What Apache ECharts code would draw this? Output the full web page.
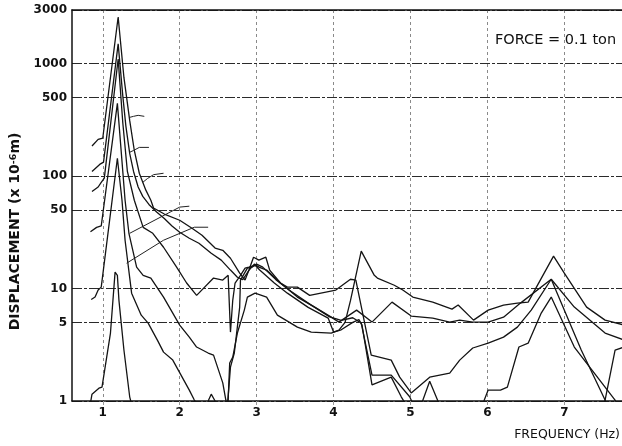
<!DOCTYPE html>
<html><head><meta charset="utf-8">
<script src="https://cdn.jsdelivr.net/npm/echarts@6/dist/echarts.min.js"></script>
<style>html,body{margin:0;padding:0;background:#fff}#c{width:622px;height:446px}</style>
</head><body><div id="c"></div>
<script>
// frequency (Hz) tick labels and displacement tick labels
const xTicks = [1, 2, 3, 4, 5, 6, 7];
const yTicks = [1, 5, 10, 50, 100, 500, 1000, 3000];

// response curves: [frequency Hz, displacement x1e-6 m]
const curveA = [[0.86,185],[0.94,212],[1.0,218],[1.2,2600],[1.275,754],[1.35,313],[1.41,169],[1.475,106],[1.56,75],[1.625,61],[1.66,52],[1.8,46],[2.0,40.5],[2.16,34.4],[2.29,29.8],[2.46,22.9],[2.56,21.9],[2.66,18.6],[2.78,13.7],[2.85,11.9],[2.9,14.6],[2.96,19],[3.03,17.9],[3.12,19],[3.17,14.6],[3.31,11.2],[3.4,10.3],[3.53,10.3],[3.69,8.7],[4.03,9.7],[4.22,12.1],[4.29,11.9],[4.49,2.56],[4.75,2.31],[4.86,1.63],[5.01,1.18],[5.25,1.63],[5.51,1.77],[5.64,2.31],[5.81,2.96],[6.01,3.27],[6.21,3.7],[6.39,4.54],[6.57,6.43],[6.83,12.1],[7.22,2.84],[7.53,1.02],[7.6,0.7]];
const curveB = [[0.86,110],[0.96,127],[1.01,133],[1.2,1500],[1.26,520],[1.3,280],[1.35,159],[1.4,110],[1.46,80],[1.52,66],[1.6,56],[1.7,48],[1.8,42],[1.9,36],[2.0,31.7],[2.125,28],[2.25,25.3],[2.41,20.6],[2.54,17.9],[2.66,14.6],[2.75,12.6],[2.82,12],[2.9,14.5],[2.97,16.5],[3.03,15.5],[3.13,14.6],[3.31,11.2],[3.53,8.4],[3.76,6.8],[3.97,5.57],[4.07,5.03],[4.3,6.43],[4.5,5.03],[4.76,7.57],[5.01,5.69],[5.29,5.46],[5.51,5.03],[5.64,5.24],[5.81,5.03],[6.01,5.03],[6.21,5.57],[6.43,7.42],[6.83,12.1],[7.13,6.84],[7.53,4.02],[7.78,3.48]];
const curveC = [[0.86,73],[0.94,80],[0.98,88],[1.02,96],[1.2,1100],[1.26,300],[1.32,110],[1.41,61],[1.525,35],[1.65,31],[1.79,23.3],[1.96,15.5],[2.09,11.2],[2.22,8.7],[2.44,12.4],[2.56,11.9],[2.63,13.1],[2.66,4.1],[2.69,7.9],[2.72,11.2],[2.79,13.1],[2.85,15.2],[2.9,15.5],[2.98,16.1],[3.04,14.6],[3.23,11.2],[3.4,9.1],[3.67,6.8],[3.93,5.46],[4.0,4.1],[4.1,4.3],[4.25,5.0],[4.33,5.3],[4.37,4.73],[4.5,1.39],[4.75,1.63],[4.88,1.09],[5.0,0.8],[5.12,0.85],[5.25,1.5],[5.4,0.85],[5.5,0.6],[7.45,0.6],[7.53,1.02],[7.66,2.84],[7.78,3.02]];
const curveD = [[0.84,32],[0.92,35],[0.98,36],[1.19,443],[1.29,61],[1.34,31],[1.44,15.5],[1.525,13.1],[1.625,12.4],[1.79,8.4],[2.0,4.73],[2.125,3.7],[2.22,3.02],[2.37,2.67],[2.44,2.56],[2.56,1.45],[2.6,1.02],[2.62,0.9],[2.66,2.0],[2.71,2.67],[2.78,6.84],[2.79,11.9],[2.88,15.2],[2.94,15.5],[3.0,16.5],[3.08,15.5],[3.25,12],[3.45,9.4],[3.7,7.2],[3.95,5.6],[4.1,5.2],[4.25,5.5],[4.36,4.93],[4.5,1.7],[4.75,1.7],[4.99,1.09],[5.1,0.75],[5.9,0.75],[5.96,1.02],[6.01,1.25],[6.17,1.25],[6.26,1.33],[6.41,3.02],[6.53,3.27],[6.7,6.05],[6.83,8.4],[7.13,3.02],[7.66,1.02],[7.72,0.8]];
const curveE = [[0.85,8.0],[0.9,8.4],[0.94,9.7],[0.98,10.3],[1.19,144],[1.25,61],[1.29,26.9],[1.375,9.1],[1.5,5.8],[1.59,4.93],[1.71,3.48],[1.79,2.72],[1.91,2.31],[2.125,1.25],[2.19,1.02],[2.3,0.8],[2.37,1.0],[2.41,1.15],[2.46,1.0],[2.52,0.8],[2.6,0.8],[2.63,1.02],[2.65,2.18],[2.69,2.46],[2.75,4.02],[2.84,6.43],[2.88,8.4],[2.98,9.1],[3.13,8.4],[3.27,5.8],[3.53,4.54],[3.71,4.1],[3.97,4.02],[4.07,4.27],[4.15,5.0],[4.22,7.8],[4.36,21.5],[4.53,13.1],[4.57,12.4],[4.79,10.7],[4.9,9.7],[5.03,8.4],[5.29,7.57],[5.54,6.56],[5.62,7.13],[5.82,5.24],[6.01,6.43],[6.21,7.13],[6.39,7.42],[6.53,7.57],[6.86,19.4],[7.0,13.7],[7.29,6.84],[7.53,5.24],[7.78,4.73]];
const curveF = [[0.82,0.8],[0.86,1.15],[0.95,1.3],[0.99,1.33],[1.1,4.02],[1.16,14],[1.19,13.1],[1.21,7.9],[1.275,2.84],[1.35,1.09],[1.4,0.8]];

// label leader lines
const leader1 = [[1.35,333],[1.4,340],[1.46,347],[1.54,340]];
const leader2 = [[1.35,163],[1.4,169],[1.475,180],[1.6,180]];
const leader3 = [[1.52,88],[1.58,95],[1.66,103],[1.79,106]];
const leader4 = [[1.35,31],[2.0,53],[2.125,54]];
const leader5 = [[1.31,16.8],[1.79,26.9],[2.19,35.1],[2.37,35.1]];

const curves = [curveA, curveB, curveC, curveD, curveE, curveF];
const leaders = [leader1, leader2, leader3, leader4, leader5];

const FONT = 'DejaVu Sans';
const series = [];
curves.forEach((d, i) => series.push({
  type: 'line', data: d, showSymbol: false, symbol: 'none', clip: true,
  lineStyle: { color: '#141414', width: 1.3 }, z: 3
}));
leaders.forEach(d => series.push({
  type: 'line', data: d, showSymbol: false, symbol: 'none', clip: true,
  lineStyle: { color: '#222', width: 1 }, z: 3
}));

const chart = echarts.init(document.getElementById('c'), null, { renderer: 'canvas' });
chart.setOption({
  animation: false,
  backgroundColor: '#fff',
  grid: { left: 72, right: 0, top: 10, bottom: 45 },
  xAxis: [{
    type: 'value', min: 0.6, max: 7.75,
    axisLine: { show: true, lineStyle: { color: '#111', width: 1.5 } },
    axisTick: { show: true, customValues: xTicks, length: 4, lineStyle: { color: '#999' } },
    axisLabel: { customValues: xTicks, margin: 6, color: '#111', fontFamily: FONT, fontWeight: 'bold', fontSize: 12 },
    splitLine: { show: true, lineStyle: { color: '#8a8a8a', width: 1, type: [3, 3] } }
  }, {
    type: 'value', min: 0.6, max: 7.75, position: 'top',
    axisLine: { show: true, lineStyle: { color: '#111', width: 1.5 } },
    axisTick: { show: false }, axisLabel: { show: false }, splitLine: { show: false }
  }],
  yAxis: {
    type: 'log', logBase: 10, min: 1, max: 3000,
    axisLine: { show: true, lineStyle: { color: '#111', width: 1.5 } },
    axisTick: { show: false, customValues: yTicks },
    axisLabel: { customValues: yTicks, margin: 5, color: '#111', fontFamily: FONT, fontWeight: 'bold', fontSize: 12,
      formatter: v => String(Math.round(v)) },
    splitLine: { show: true, lineStyle: { color: '#2a2a2a', width: 1, type: [10, 2, 3, 2] } },
    name: '{b|DISPLACEMENT (x 10}{s|-6}{b|m)}',
    nameLocation: 'middle', nameRotate: 90, nameGap: 45,
    nameTextStyle: { padding: [0, 52, 0, 0], rich: {
      b: { fontFamily: FONT, fontWeight: 'bold', fontSize: 14, color: '#111' },
      s: { fontFamily: FONT, fontWeight: 'bold', fontSize: 9.5, color: '#111', verticalAlign: 'top' }
    } }
  },
  graphic: [
    { type: 'text', left: 495, top: 33, style: { text: 'FORCE = 0.1 ton', font: '14.5px "DejaVu Sans"', fill: '#111' } },
    { type: 'text', right: 2, top: 428, style: { text: 'FREQUENCY (Hz)', font: '12.5px "DejaVu Sans"', fill: '#111' } }
  ],
  series: series
});
</script></body></html>
